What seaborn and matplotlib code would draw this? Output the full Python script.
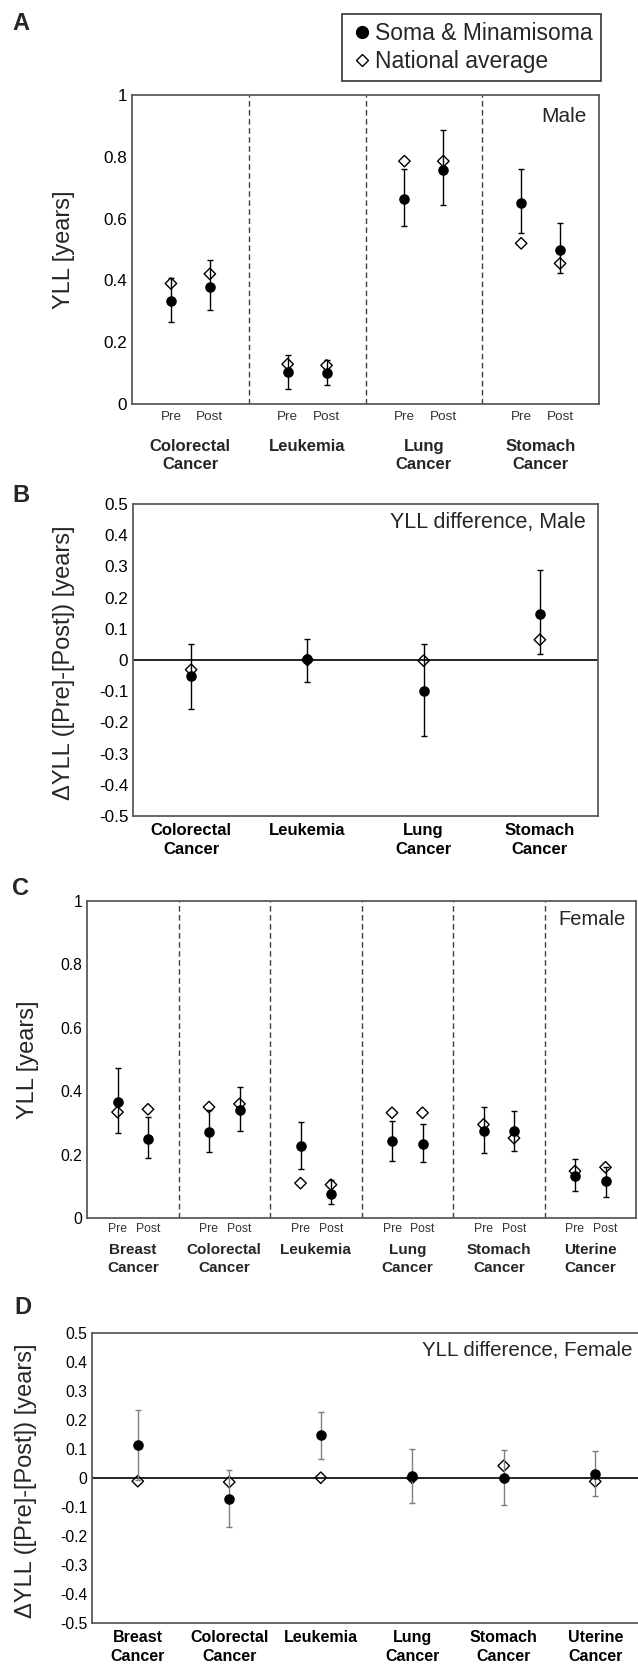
import numpy as np
import pandas as pd
import matplotlib
matplotlib.use("Agg")
import matplotlib.pyplot as plt
from matplotlib.lines import Line2D
import seaborn as sns

# ---- data ----
male_causes = ["Colorectal\nCancer", "Leukemia", "Lung\nCancer", "Stomach\nCancer"]
male_pre_soma = [0.334, 0.104, 0.662, 0.649]
male_pre_lo = [0.266, 0.048, 0.576, 0.552]
male_pre_hi = [0.407, 0.160, 0.760, 0.759]
male_pre_natl = [0.390, 0.129, 0.786, 0.520]
male_post_soma = [0.380, 0.099, 0.757, 0.497]
male_post_lo = [0.305, 0.061, 0.644, 0.423]
male_post_hi = [0.466, 0.143, 0.888, 0.585]
male_post_natl = [0.421, 0.125, 0.786, 0.455]

male_diff_soma = [-0.052, 0.002, -0.099, 0.148]
male_diff_lo = [-0.156, -0.069, -0.244, 0.019]
male_diff_hi = [0.050, 0.068, 0.052, 0.287]
male_diff_natl = [-0.031, 0.000, -0.002, 0.065]

female_causes = ["Breast\nCancer", "Colorectal\nCancer", "Leukemia", "Lung\nCancer",
                 "Stomach\nCancer", "Uterine\nCancer"]
female_pre_soma = [0.366, 0.272, 0.228, 0.243, 0.274, 0.132]
female_pre_lo = [0.268, 0.208, 0.154, 0.179, 0.205, 0.084]
female_pre_hi = [0.474, 0.341, 0.303, 0.306, 0.350, 0.187]
female_pre_natl = [0.334, 0.350, 0.110, 0.332, 0.295, 0.148]
female_post_soma = [0.250, 0.341, 0.077, 0.234, 0.274, 0.116]
female_post_lo = [0.190, 0.274, 0.043, 0.176, 0.210, 0.067]
female_post_hi = [0.320, 0.414, 0.119, 0.297, 0.339, 0.162]
female_post_natl = [0.343, 0.360, 0.105, 0.332, 0.252, 0.160]

female_diff_soma = [0.113, -0.071, 0.147, 0.007, 0.000, 0.014]
female_diff_lo = [-0.007, -0.170, 0.067, -0.085, -0.094, -0.061]
female_diff_hi = [0.233, 0.029, 0.229, 0.100, 0.095, 0.092]
female_diff_natl = [-0.011, -0.014, 0.001, 0.000, 0.042, -0.012]

periods = ["Pre", "Post"]
legend_labels = ["Soma & Minamisoma", "National average"]

sns.set_style("white")
plt.rcParams["font.family"] = ["Liberation Sans", "DejaVu Sans"]

W, H = 638, 1669
fig = plt.figure(figsize=(W / 100, H / 100), dpi=100)


def px_axes(l, t, r, b):
    return fig.add_axes([l / W, 1 - b / H, (r - l) / W, (b - t) / H])


def style(ax, tick_size):
    for s in ax.spines.values():
        s.set_visible(True)
        s.set_color("#5a5a5a")
        s.set_linewidth(1.3)
    ax.tick_params(length=0, labelsize=tick_size, colors="black")
    ax.grid(False)


def draw_points(ax, x, soma, lo, hi, natl, ecolor="black"):
    df = pd.DataFrame({"x": x, "soma": soma, "lo": lo, "hi": hi, "natl": natl})
    sns.scatterplot(data=df, x="x", y="natl", marker="D", s=34, facecolor="none",
                    edgecolor="black", linewidth=1.0, ax=ax, zorder=3, legend=False)
    ax.errorbar(df["x"], df["soma"], yerr=[df["soma"] - df["lo"], df["hi"] - df["soma"]],
                fmt="none", ecolor=ecolor, elinewidth=1.0, capsize=2.5, capthick=1.0, zorder=4)
    sns.scatterplot(data=df, x="x", y="soma", marker="o", s=58, color="black",
                    edgecolor="black", linewidth=0, ax=ax, zorder=5, legend=False)


def fmt_ticks(ax, ticks):
    ax.set_yticks(ticks)
    ax.set_yticklabels([f"{np.round(t, 1) + 0.0:g}" for t in ticks])


def prepost_panel(ax, causes, pre, pre_lo, pre_hi, pre_n, post, post_lo, post_hi, post_n,
                  tick_size, pp_size, pp_pad, grp_size, grp_off, tag, tag_size, tag_pos):
    n = len(causes)
    xpre = [3 * i + 1 for i in range(n)]
    xpost = [3 * i + 2 for i in range(n)]
    draw_points(ax, xpre, pre, pre_lo, pre_hi, pre_n)
    draw_points(ax, xpost, post, post_lo, post_hi, post_n)
    for i in range(1, n):
        ax.axvline(3 * i, color="#404040", lw=1.0, linestyle=(0, (4, 2.5)), zorder=1)
    ax.set_xlim(0, 3 * n)
    ax.set_ylim(0, 1)
    fmt_ticks(ax, np.arange(0, 1.01, 0.2))
    ax.set_xticks(sorted(xpre + xpost))
    ax.set_xticklabels(periods * n, fontsize=pp_size, color="#333333")
    ax.tick_params(axis="x", pad=pp_pad)
    for i, name in enumerate(causes):
        ax.annotate(name, xy=(3 * i + 1.5, 0), xycoords=("data", "axes fraction"),
                    xytext=(0, grp_off), textcoords="offset points", ha="center", va="top",
                    fontsize=grp_size, fontweight="bold", linespacing=1.3)
    ax.text(tag_pos[0], tag_pos[1], tag, transform=ax.transAxes, ha="right", va="center",
            fontsize=tag_size)
    ax.set_xlabel("")


def diff_panel(ax, causes, soma, lo, hi, natl, ecolor, tick_size, grp_size, grp_pad,
               tag, tag_size, tag_pos):
    n = len(causes)
    xc = [i + 0.5 for i in range(n)]
    ax.axhline(0, color="black", lw=1.2, zorder=2)
    draw_points(ax, xc, soma, lo, hi, natl, ecolor=ecolor)
    ax.set_xlim(0, n)
    ax.set_ylim(-0.5, 0.5)
    fmt_ticks(ax, np.arange(-0.5, 0.501, 0.1))
    ax.set_xticks(xc)
    ax.set_xticklabels(causes, fontsize=grp_size, fontweight="bold", va="top", linespacing=1.3)
    ax.tick_params(axis="x", pad=grp_pad)
    ax.text(tag_pos[0], tag_pos[1], tag, transform=ax.transAxes, ha="right", va="center",
            fontsize=tag_size)
    ax.set_xlabel("")


# ---- panel A ----
axA = px_axes(132, 95, 599, 404)
style(axA, 12.3)
prepost_panel(axA, male_causes, male_pre_soma, male_pre_lo, male_pre_hi, male_pre_natl,
              male_post_soma, male_post_lo, male_post_hi, male_post_natl,
              12.3, 9.7, 5, 12, -25, "Male", 15, (0.974, 0.932))
axA.set_ylabel("YLL [years]", fontsize=17)
axA.yaxis.set_label_coords(-0.146, 0.5)
axA.yaxis.label.set_va("center")

# ---- panel B ----
axB = px_axes(133, 504, 598, 816)
style(axB, 12.3)
diff_panel(axB, male_causes, male_diff_soma, male_diff_lo, male_diff_hi, male_diff_natl,
           "black", 12.3, 12, 5, "YLL difference, Male", 15.5, (0.974, 0.941))
axB.set_ylabel("ΔYLL ([Pre]-[Post]) [years]", fontsize=17)
axB.yaxis.set_label_coords(-0.148, 0.49)
axB.yaxis.label.set_va("center")

# ---- panel C ----
axC = px_axes(87, 901, 636, 1218)
style(axC, 11.3)
prepost_panel(axC, female_causes, female_pre_soma, female_pre_lo, female_pre_hi, female_pre_natl,
              female_post_soma, female_post_lo, female_post_hi, female_post_natl,
              11.3, 8.8, 3.5, 11, -18.3, "Female", 14.5, (0.982, 0.942))
axC.set_ylabel("YLL [years]", fontsize=17)
axC.yaxis.set_label_coords(-0.108, 0.5)
axC.yaxis.label.set_va("center")

# ---- panel D ----
axD = px_axes(92, 1333, 641, 1623)
style(axD, 11.3)
diff_panel(axD, female_causes, female_diff_soma, female_diff_lo, female_diff_hi, female_diff_natl,
           "#7f7f7f", 11.3, 11.5, 5, "YLL difference, Female", 14.8, (0.985, 0.94))
axD.set_ylabel("ΔYLL ([Pre]-[Post]) [years]", fontsize=17)
axD.yaxis.set_label_coords(-0.121, 0.49)
axD.yaxis.label.set_va("center")

# ---- panel letters ----
for letter, (lx, ly) in zip("ABCD", [(12, 12), (12, 484), (12, 877), (14, 1296)]):
    fig.text(lx / W, 1 - ly / H, letter, fontsize=17, fontweight="bold", ha="left", va="top")

# ---- legend ----
handles = [
    Line2D([], [], linestyle="none", marker="o", markersize=8.5, color="black"),
    Line2D([], [], linestyle="none", marker="D", markersize=6.5, markerfacecolor="white",
           markeredgecolor="black", markeredgewidth=1.0),
]
leg = fig.legend(handles, legend_labels, loc="upper right", bbox_to_anchor=(601 / W, 1 - 14 / H),
                 frameon=True, fancybox=False, edgecolor="black", fontsize=16.5,
                 handlelength=1.0, handletextpad=0.1, borderpad=0.35, labelspacing=0.2,
                 borderaxespad=0)
leg.get_frame().set_linewidth(1.2)

fig.savefig("out.png", dpi=100)
